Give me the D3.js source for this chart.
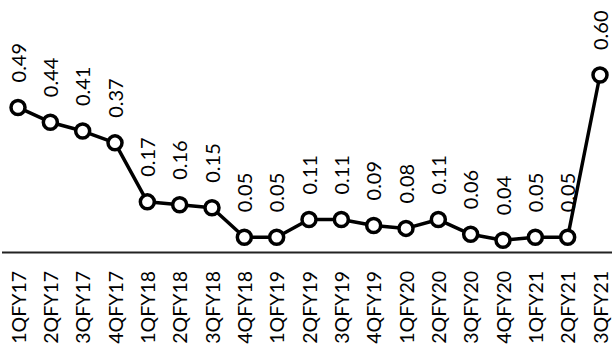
<!DOCTYPE html>
<html>
<head>
<meta charset="utf-8">
<script src="https://cdn.jsdelivr.net/npm/d3@7/dist/d3.min.js"></script>
<style>
html,body{margin:0;padding:0;background:#fff;}
svg{display:block;}
text{font-family:Lato,"DejaVu Sans",sans-serif;fill:#000;}
</style>
</head>
<body>
<svg id="chart" width="614" height="349"></svg>
<script>
const categories = ["1QFY17","2QFY17","3QFY17","4QFY17","1QFY18","2QFY18","3QFY18","4QFY18","1QFY19","2QFY19","3QFY19","4QFY19","1QFY20","2QFY20","3QFY20","4QFY20","1QFY21","2QFY21","3QFY21"];
const values = [0.49,0.44,0.41,0.37,0.17,0.16,0.15,0.05,0.05,0.11,0.11,0.09,0.08,0.11,0.06,0.04,0.05,0.05,0.60];
const valueLabels = ["0.49","0.44","0.41","0.37","0.17","0.16","0.15","0.05","0.05","0.11","0.11","0.09","0.08","0.11","0.06","0.04","0.05","0.05","0.60"];

const svg = d3.select("#chart");
const x = d3.scalePoint().domain(categories).range([18, 600]);
const y = d3.scaleLinear().domain([0, 0.6]).range([252, 75]);

// axis baseline
svg.append("line")
  .attr("x1", 2).attr("x2", 612)
  .attr("y1", y(0)+0.5).attr("y2", y(0)+0.5)
  .attr("stroke", "#222").attr("stroke-width", 2);

// category labels
svg.append("g").selectAll("text").data(categories).join("text")
  .attr("transform", d => `translate(${x(d)+7.5},271) rotate(-90)`)
  .attr("text-anchor", "end")
  .attr("font-size", 19.5)
  .text(d => d);

// value labels
svg.append("g").selectAll("text").data(values).join("text")
  .attr("transform", (d,i) => `translate(${x(categories[i])+7.5},${y(d)-25}) rotate(-90)`)
  .attr("text-anchor", "start")
  .attr("font-size", 20)
  .text((d,i) => valueLabels[i]);

// line
const line = d3.line().x((d,i) => x(categories[i])).y(d => y(d));
svg.append("path").datum(values)
  .attr("d", line)
  .attr("fill", "none").attr("stroke", "#000").attr("stroke-width", 3.5)
  .attr("stroke-linejoin", "round");

// markers
svg.append("g").selectAll("circle").data(values).join("circle")
  .attr("cx", (d,i) => x(categories[i]))
  .attr("cy", d => y(d))
  .attr("r", 7)
  .attr("fill", "#fff").attr("stroke", "#000").attr("stroke-width", 3.5);
</script>
</body>
</html>
